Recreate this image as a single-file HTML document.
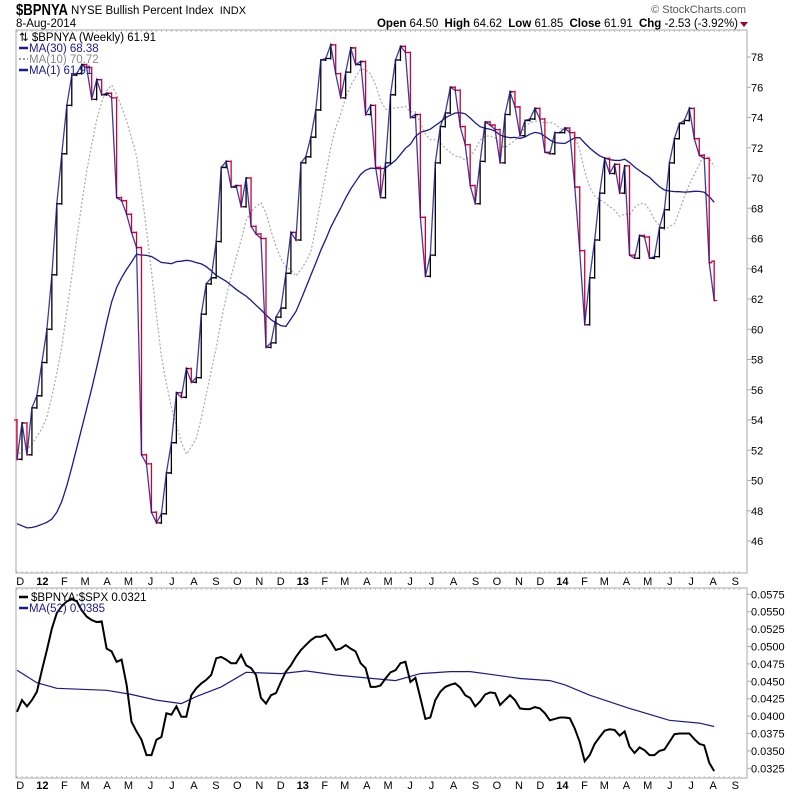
<!DOCTYPE html>
<html><head><meta charset="utf-8"><style>
body{margin:0;background:#fff;width:800px;height:795px;overflow:hidden}
svg{display:block;font-family:"Liberation Sans",sans-serif}
</style></head><body>
<svg id="chart" width="800" height="795" viewBox="0 0 800 795" xmlns="http://www.w3.org/2000/svg">
<g>
<text x="16" y="15" font-size="16" font-weight="bold" textLength="52" lengthAdjust="spacingAndGlyphs">$BPNYA</text>
<text x="71" y="14" font-size="11.5">NYSE Bullish Percent Index <tspan dx="3" font-size="11">INDX</tspan></text>
<text x="16" y="27" font-size="11.5">8-Aug-2014</text>
<text x="746" y="13" font-size="11" fill="#555" text-anchor="end">© StockCharts.com</text>
<text x="738" y="27" font-size="11.5" text-anchor="end"><tspan font-weight="bold">Open</tspan> 64.50 <tspan dx="3" font-weight="bold">High</tspan> 64.62 <tspan dx="3" font-weight="bold">Low</tspan> 61.85 <tspan dx="3" font-weight="bold">Close</tspan> 61.91 <tspan dx="3" font-weight="bold">Chg</tspan> -2.53 (-3.92%)</text>
<path d="M740 22 L748 22 L744 27 Z" fill="#a0002a"/>
</g>
<rect x="16" y="30" width="731" height="543" fill="none" stroke="#aaa"/>
<rect x="16" y="588" width="731" height="190" fill="none" stroke="#aaa"/>
<g id="mainG"></g>
<g id="lowG"></g>
<g id="axisG"></g>
<g font-family="'Liberation Sans',sans-serif" font-size="11.5">
<text x="19" y="41">⇅ $BPNYA (Weekly) 61.91</text>
<line x1="19" y1="48" x2="28" y2="48" stroke="#1a1a8c" stroke-width="2.5"/>
<text x="29" y="52" fill="#1a1a8c">MA(30) 68.38</text>
<line x1="19" y1="59" x2="28" y2="59" stroke="#999" stroke-width="2" stroke-dasharray="2,2"/>
<text x="29" y="63" fill="#888">MA(10) 70.72</text>
<line x1="19" y1="70" x2="28" y2="70" stroke="#1a1a8c" stroke-width="2.5"/>
<text x="29" y="74" fill="#1a1a8c">MA(1) 61.91</text>
</g>
<g font-family="'Liberation Sans',sans-serif" font-size="11.5">
<line x1="19" y1="597" x2="28" y2="597" stroke="#000" stroke-width="2.5"/>
<text x="31" y="601">$BPNYA:$SPX 0.0321</text>
<line x1="19" y1="608" x2="28" y2="608" stroke="#1a1a8c" stroke-width="2.5"/>
<text x="29" y="612" fill="#1a1a8c">MA(52) 0.0385</text>
</g>
</svg>
<script>
const closes=[51.4,53.8,51.7,54.8,55.6,57.8,60.0,63.6,68.3,71.6,
74.8,76.8,76.9,77.5,77.3,75.2,76.5,75.5,75.6,75.3,
68.7,68.5,67.6,66.4,65.4,51.7,51.1,47.9,47.2,47.8,
50.5,52.5,55.8,55.5,57.4,56.5,56.8,61.0,63.0,63.4,
65.8,70.7,71.1,69.4,69.5,68.1,70.0,66.8,66.3,66.0,
58.8,59.1,60.8,61.4,63.7,66.4,65.9,71.0,71.4,72.7,
74.5,77.8,77.9,78.8,76.9,75.3,77.0,78.6,77.5,77.7,
74.2,74.8,70.7,68.7,71.0,75.5,77.8,78.7,78.3,74.0,
74.2,67.4,63.5,64.9,71.0,73.4,74.3,76.0,75.8,73.4,
72.2,69.5,68.3,71.1,73.7,73.5,73.2,71.0,74.2,75.7,
74.7,72.8,73.8,73.9,74.6,73.9,71.7,71.6,73.0,73.0,
73.3,73.0,69.4,65.2,60.3,63.4,65.9,69.0,71.3,70.3,
70.9,69.0,70.8,64.9,64.7,66.2,66.1,64.7,64.8,66.7,
67.9,71.0,72.6,73.6,73.8,74.6,72.6,71.5,71.3,64.4,61.9];
const priorCloses=[58,56,54,53,54,56,57,55,50,44,40,38,39,38,36,34,32,31,34,40,49,51,52,50,53,52,50,53,54];
const lastOpen=64.5;
const ratio=[.0406,.0423,.0414,.0423,.0435,.0466,.0495,.0526,.0548,.0558,
.0565,.0568,.0565,.0552,.0543,.0538,.0535,.0536,.0497,.0493,
.0478,.0481,.0445,.0392,.0378,.0366,.0344,.0344,.0366,.0370,
.0404,.0402,.0414,.0399,.0399,.0430,.0440,.0447,.0452,.0459,
.0483,.0485,.0481,.0476,.0476,.0488,.0473,.0469,.0459,.0426,
.0418,.0430,.0433,.0449,.0464,.0473,.0485,.0495,.0502,.0509,
.0514,.0514,.0517,.0507,.0495,.0497,.0502,.0497,.0493,.0476,
.0469,.0442,.0442,.0444,.0454,.0463,.0466,.0476,.0478,.0449,
.0455,.0426,.0396,.0398,.0423,.0435,.0442,.0445,.0447,.0441,
.0430,.0426,.0414,.0421,.0431,.0434,.0433,.0416,.0423,.0430,
.0423,.0411,.0410,.0410,.0413,.0411,.0404,.0394,.0396,.0398,
.0398,.0397,.0382,.0363,.0335,.0344,.0360,.0370,.0379,.0381,
.0380,.0372,.0378,.0356,.0347,.0355,.0351,.0344,.0344,.0350,
.0352,.0363,.0374,.0375,.0375,.0375,.0367,.0360,.0358,.0333,.0321];
const ma52Weeks=[0,4,8,18,23,28,33,36,41,46,53,58,64,76,81,87,91,95,101,107,110,115,123,131,137,140];
const ma52Values=[.0466,.0448,.0440,.0437,.0431,.0423,.0418,.0428,.0442,.0463,.0461,.0465,.0459,.0451,.0461,.0464,.0464,.0460,.0454,.0451,.0445,.0430,.0411,.0394,.0390,.0385];
const priceTicks=[46,48,50,52,54,56,58,60,62,64,66,68,70,72,74,76,78];
const ratioTicks=[.0325,.0350,.0375,.0400,.0425,.0450,.0475,.0500,.0525,.0550,.0575];
const monthLetters=["J","F","M","A","M","J","J","A","S","O","N","D"];

const NS="http://www.w3.org/2000/svg";
const X=i=>17+i*4.98;
const Y=v=>57+(78-v)*15.125;
const YR=v=>594.3+(0.0575-v)*6960;
function mk(parent,tag,attrs){const e=document.createElementNS(NS,tag);for(const k in attrs)e.setAttribute(k,attrs[k]);parent.appendChild(e);return e;}
const mainG=document.getElementById('mainG'),lowG=document.getElementById('lowG'),axisG=document.getElementById('axisG');

const all=priorCloses.concat(closes);const P=priorCloses.length;
function ma(n,i){let s=0;for(let k=0;k<n;k++)s+=all[P+i-k];return s/n;}
let d10="",d30="";
closes.forEach((c,i)=>{d10+=(i?"L":"M")+X(i).toFixed(1)+" "+Y(ma(10,i)).toFixed(1);d30+=(i?"L":"M")+X(i).toFixed(1)+" "+Y(ma(30,i)).toFixed(1);});
let p=mk(mainG,'path',{d:d10,fill:'none',stroke:'#aaa','stroke-width':1.2,'stroke-dasharray':'2,2'});


p=mk(mainG,'path',{d:d30,fill:'none',stroke:'#1a1a8c','stroke-width':1.3});


closes.forEach((c,i)=>{
  const o=i===closes.length-1?lastOpen:(i?closes[i-1]:all[P-1]);
  const col=c<o?'#d0003a':'#000';const x=X(i);
  const g=mk(mainG,'g',{stroke:col,'stroke-width':1.3,fill:'none'});
  
  
  mk(g,'path',{d:`M${x} ${Y(Math.max(o,c))-1}V${Y(Math.min(o,c))+1}M${x-3} ${Y(o)}H${x}M${x} ${Y(c)}H${x+3}`});
});
let d1="";closes.forEach((c,i)=>{d1+=(i?"L":"M")+X(i).toFixed(1)+" "+Y(c).toFixed(1);});
p=mk(mainG,'path',{d:d1,fill:'none',stroke:'#1a1a8c','stroke-width':1.3,'stroke-opacity':0.85});


const clip=mk(lowG,'clipPath',{id:'lc'});mk(clip,'rect',{x:16,y:588,width:731,height:190});
let dm="";ma52Weeks.forEach((w,k)=>{dm+=(k?"L":"M")+X(w).toFixed(1)+" "+YR(ma52Values[k]).toFixed(1);});
p=mk(lowG,'path',{d:dm,fill:'none',stroke:'#1a1a8c','stroke-width':1.2,'clip-path':'url(#lc)'});


let dr="";ratio.forEach((v,i)=>{dr+=(i?"L":"M")+X(i).toFixed(1)+" "+YR(v).toFixed(1);});
p=mk(lowG,'path',{d:dr,fill:'none',stroke:'#000','stroke-width':2,'clip-path':'url(#lc)'});


priceTicks.forEach(v=>{
  mk(axisG,'line',{x1:747,y1:Y(v),x2:751,y2:Y(v),stroke:'#aaa'});
  const t=mk(axisG,'text',{x:751,y:Y(v)+4,'font-size':11});t.textContent=v;
  
  
});
ratioTicks.forEach(v=>{
  mk(axisG,'line',{x1:747,y1:YR(v),x2:751,y2:YR(v),stroke:'#aaa'});
  const t=mk(axisG,'text',{x:751,y:YR(v)+4,'font-size':11});t.textContent=v.toFixed(4);
  
  
});
const start=Date.UTC(2011,11,2);
for(let y=2011;y<=2014;y++)for(let m=0;m<12;m++){
  const t0=Date.UTC(y,m,1);const wi=(t0-start)/6048e5;
  if(wi<-1||wi>146)continue;
  const lab=m===0?String(y).slice(2):monthLetters[m];
  [581,785].forEach(yy=>{
    const x=X(wi)+4;
    const t=mk(axisG,'text',{x:x,y:yy+4,'font-size':11,'text-anchor':'middle','font-weight':m===0?'bold':'normal'});
    t.textContent=lab;
    
    
  });
}
for(let i=-1;i<146;i++){const x=X(i);if(x<16||x>747)continue;
  [30,573,588,778].forEach(yy=>mk(axisG,'line',{x1:x,y1:yy,x2:x,y2:yy+(yy===30||yy===588?2:-2),stroke:'#bbb'}));}
</script>
</body></html>
